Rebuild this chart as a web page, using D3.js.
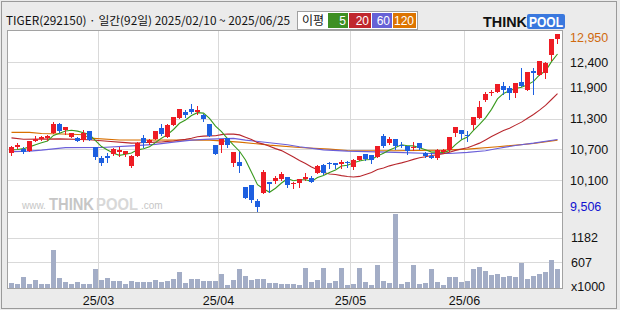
<!DOCTYPE html>
<html>
<head>
<meta charset="utf-8">
<script src="https://cdn.jsdelivr.net/npm/d3@7"></script>
<style>
  html, body { margin: 0; padding: 0; background: #fff; }
  svg { display: block; font-family: "Liberation Sans", Arial, sans-serif; }
</style>
</head>
<body>
<svg id="chart" width="620" height="310"></svg>
<script>
// trading calendar (KRX, 2025/02/10 ~ 2025/06/25)
const tradeMonths = ["02", "03", "04", "05", "06"];
const tradeDays = [
  [10, 11, 12, 13, 14, 17, 18, 19, 20, 21, 24, 25, 26, 27, 28],
  [4, 5, 6, 7, 10, 11, 12, 13, 14, 17, 18, 19, 20, 21, 24, 25, 26, 27, 28, 31],
  [1, 2, 3, 4, 7, 8, 9, 10, 11, 14, 15, 16, 17, 18, 21, 22, 23, 24, 25, 28, 29, 30],
  [2, 7, 8, 9, 12, 13, 14, 15, 16, 19, 20, 21, 22, 23, 26, 27, 28, 29, 30],
  [2, 4, 5, 9, 10, 11, 12, 13, 16, 17, 18, 19, 20, 23, 24, 25]
];

const opens = [10635, 10745, 10715, 10670, 10870, 10895, 10915, 11025, 11195, 11080,
  10950, 10930, 10875, 11055, 10740, 10535, 10575, 10615, 10650, 10605,
  10375, 10575, 10925, 10840, 10910, 11115, 10945, 11180, 11315, 11430,
  11485, 11435, 11375, 11195, 10785, 10785, 10915, 10440, 10460, 9965,
  10005, 9690, 9855, 10070, 10090, 10120, 10160, 10030, 10050, 10130,
  10135, 10240, 10400, 10440, 10440, 10425, 10460, 10360, 10490, 10615,
  10595, 10550, 10960, 10825, 10900, 10785, 10765, 10730, 10825, 10630,
  10570, 10530, 10655, 10685, 11020, 11075, 10980, 11180, 11315, 11660,
  11805, 11820, 11935, 11895, 11800, 12015, 11855, 12230, 12150, 12190,
  12540, 12845];
const highs = [10770, 10825, 10745, 10865, 10960, 10970, 10990, 11230, 11215, 11135,
  11030, 10950, 11070, 11060, 10740, 10570, 10640, 10735, 10740, 10675,
  10585, 10845, 10980, 10910, 11060, 11195, 11205, 11335, 11490, 11475,
  11585, 11545, 11390, 11195, 10790, 10895, 10920, 10650, 10655, 9970,
  10005, 9725, 10295, 10070, 10180, 10255, 10160, 10070, 10120, 10235,
  10180, 10395, 10425, 10460, 10440, 10495, 10480, 10515, 10580, 10615,
  10600, 10765, 11000, 10940, 10900, 10840, 10765, 10845, 10825, 10650,
  10630, 10705, 10705, 10940, 11135, 11075, 11055, 11325, 11650, 11820,
  11855, 11975, 12015, 11935, 11995, 12295, 12210, 12295, 12425, 12405,
  12850, 12950];
const lows = [10600, 10725, 10630, 10665, 10855, 10875, 10875, 11025, 11035, 11010,
  10935, 10865, 10855, 10880, 10510, 10405, 10455, 10590, 10565, 10565,
  10355, 10575, 10750, 10815, 10905, 10980, 10940, 11175, 11310, 11330,
  11410, 11385, 11245, 10960, 10610, 10650, 10750, 10380, 10265, 9750,
  9680, 9506, 9850, 9875, 10050, 10100, 9970, 9950, 9970, 10095,
  10060, 10240, 10220, 10340, 10340, 10340, 10360, 10325, 10490, 10495,
  10440, 10550, 10745, 10805, 10705, 10740, 10610, 10685, 10705, 10550,
  10530, 10510, 10630, 10675, 10965, 10920, 10865, 11100, 11315, 11650,
  11760, 11820, 11780, 11680, 11720, 11935, 11855, 11775, 12150, 12090,
  12445, 12775];
const closes = [10750, 10785, 10655, 10860, 10910, 10940, 10960, 11195, 11065, 11135,
  11020, 10870, 11030, 10890, 10550, 10440, 10535, 10715, 10685, 10660,
  10565, 10835, 10830, 10880, 11055, 11000, 11180, 11330, 11485, 11375,
  11430, 11465, 11285, 10970, 10615, 10895, 10790, 10650, 10375, 9755,
  9710, 9580, 10255, 10030, 10145, 10220, 10000, 10055, 10120, 10155,
  10060, 10375, 10240, 10415, 10400, 10460, 10440, 10495, 10575, 10520,
  10495, 10765, 10765, 10900, 10765, 10765, 10665, 10750, 10725, 10570,
  10530, 10685, 10680, 10940, 11135, 11000, 10955, 11325, 11525, 11780,
  11820, 11975, 11855, 11800, 11995, 11935, 12210, 12190, 12425, 12385,
  12850, 12950];
// volume, x1000 shares
const volumes = [125, 100, 266, 100, 196, 100, 100, 900, 243, 149,
  100, 149, 100, 100, 454, 196, 243, 157, 172, 100,
  172, 149, 149, 149, 196, 149, 172, 219, 384, 125,
  219, 219, 157, 157, 172, 337, 78, 196, 454, 290,
  196, 219, 219, 125, 125, 100, 100, 100, 78, 478,
  133, 180, 462, 110, 157, 462, 63, 86, 462, 133,
  63, 533, 157, 110, 1731, 86, 133, 533, 86, 110,
  438, 133, 63, 250, 250, 133, 157, 438, 485, 391,
  297, 321, 250, 274, 250, 579, 203, 274, 321, 368,
  650, 438];

// moving-average values read before the window fills (need pre-chart data)
const ma5Head = [[0, 10690], [1, 10700], [2, 10715], [3, 10750]];
const ma20Head = [[0, 10925], [2, 10900], [8, 10905], [13, 10890], [16, 10860]];
// 60 / 120 day averages
const ma60Pts = [[0, 10657], [3, 10667], [5, 10686], [9, 10735], [15, 10739], [20, 10770],
  [24, 10798], [27, 10843], [30, 10882], [33, 10901], [37, 10915], [39, 10882],
  [43, 10829], [46, 10790], [48, 10751], [52, 10692], [56, 10667], [64, 10642],
  [70, 10622], [73, 10622], [76, 10642], [79, 10673], [81, 10719], [84, 10778],
  [87, 10823], [91, 10895]];
const ma120Pts = [[0, 11032], [3, 11032], [5, 11010], [10, 10995], [12, 10985], [13, 10920],
  [18, 10885], [33, 10882], [38, 10843], [43, 10784], [48, 10739], [53, 10706],
  [56, 10680], [64, 10673], [72, 10686], [76, 10706], [81, 10751], [87, 10817],
  [91, 10882]];

const priceTicks = [12400, 11900, 11300, 10700, 10100];
const volumeTicks = [1182, 607];
const maLegend = [
  { label: "5", color: "#3d8f22" },
  { label: "20", color: "#c0272d" },
  { label: "60", color: "#6661d6" },
  { label: "120", color: "#dd7400" }
];

const W = 620, H = 310;
const plot = { left: 8, right: 562, top: 31, split: 212, bottom: 288 };
const upColor = "#ee1c24", downColor = "#1d5fe0";
const gridColor = "#d9d9d9", frameColor = "#a2a2a2";

const dates = tradeMonths.flatMap((m, k) =>
  tradeDays[k].map(d => `2025-${m}-${String(d).padStart(2, "0")}`));
const n = dates.length;

function movingAvg(period, head) {
  const pts = head.slice();
  for (let i = period - 1; i < n; i++) {
    pts.push([i, d3.mean(closes.slice(i - period + 1, i + 1))]);
  }
  return pts;
}

const svg = d3.select("#chart");

// outer background and frame
svg.append("rect").attr("width", W).attr("height", H).attr("fill", "#ebebeb");
svg.append("rect").attr("x", 1.5).attr("y", 1.5).attr("width", 615).attr("height", 307)
  .attr("fill", "none").attr("stroke", "#9a9a9a");
svg.append("rect").attr("x", plot.left).attr("y", plot.top)
  .attr("width", plot.right - plot.left).attr("height", plot.bottom - plot.top)
  .attr("fill", "#fff");

const x = d3.scaleBand().domain(d3.range(n)).range([plot.left, plot.left + 6 * n]);
const y = d3.scaleLinear().domain([d3.min(lows), d3.max(highs)]).range([210.7, 34]);
const vy = d3.scaleLinear().domain([0, 1182]).range([plot.bottom, 237.7]);
const cx = i => x(i) + 3.5;

// grid
const grid = svg.append("g").attr("stroke", gridColor).attr("stroke-width", 1);
priceTicks.forEach(t => {
  const yy = Math.round(y(t)) + 0.5;
  grid.append("line").attr("x1", plot.left).attr("x2", plot.right).attr("y1", yy).attr("y2", yy);
});
volumeTicks.forEach(t => {
  const yy = Math.round(vy(t)) + 0.5;
  grid.append("line").attr("x1", plot.left).attr("x2", plot.right).attr("y1", yy).attr("y2", yy);
});
const monthStarts = d3.range(1, n).filter(i => dates[i].slice(5, 7) !== dates[i - 1].slice(5, 7));
monthStarts.forEach(i => {
  grid.append("line").attr("x1", x(i) + 0.5).attr("x2", x(i) + 0.5)
    .attr("y1", plot.top).attr("y2", plot.bottom);
});

// watermark
const wm = svg.append("g").attr("fill", "#c6c6c6");
wm.append("text").attr("x", 22).attr("y", 209).attr("font-size", 10).text("www.");
wm.append("text").attr("x", 49).attr("y", 210).attr("font-size", 16).attr("font-weight", "bold")
  .attr("textLength", 45).attr("lengthAdjust", "spacingAndGlyphs").text("THINK");
wm.append("text").attr("x", 96).attr("y", 210).attr("font-size", 16).attr("font-weight", "bold")
  .attr("fill", "#d8d8d8").attr("textLength", 42).attr("lengthAdjust", "spacingAndGlyphs").text("POOL");
wm.append("text").attr("x", 141).attr("y", 209).attr("font-size", 10).text(".com");

// volume bars
svg.append("g").selectAll("rect").data(volumes).join("rect")
  .attr("x", (d, i) => x(i) + 1)
  .attr("width", 5)
  .attr("y", d => Math.round(vy(d)))
  .attr("height", d => plot.bottom - Math.round(vy(d)))
  .attr("fill", "#a3adc6");

// moving averages
const line = d3.line().x(d => cx(d[0])).y(d => y(d[1]));
const maSeries = [
  { pts: ma120Pts, color: "#d87000" },
  { pts: ma60Pts, color: "#6b5fd9" },
  { pts: movingAvg(20, ma20Head), color: "#b8282e" },
  { pts: movingAvg(5, ma5Head), color: "#3a9a1e" }
];
svg.append("g").selectAll("path").data(maSeries).join("path")
  .attr("d", d => line(d.pts))
  .attr("fill", "none")
  .attr("stroke", d => d.color)
  .attr("stroke-width", 1.1);

// candles
const candles = svg.append("g").selectAll("g").data(d3.range(n)).join("g")
  .attr("fill", i => closes[i] >= opens[i] ? upColor : downColor)
  .attr("stroke", i => closes[i] >= opens[i] ? upColor : downColor);
candles.append("line")
  .attr("x1", cx).attr("x2", cx)
  .attr("y1", i => Math.round(y(highs[i])))
  .attr("y2", i => Math.round(y(lows[i])) + 1);
candles.append("rect")
  .attr("stroke", "none")
  .attr("x", i => x(i) + 1)
  .attr("width", 5)
  .attr("y", i => Math.round(y(Math.max(opens[i], closes[i]))))
  .attr("height", i => Math.max(1, Math.round(y(Math.min(opens[i], closes[i]))) - Math.round(y(Math.max(opens[i], closes[i])))));

// plot frame
const frame = svg.append("g").attr("stroke", frameColor).attr("fill", "none");
frame.append("rect").attr("x", plot.left - 0.5).attr("y", plot.top - 0.5)
  .attr("width", plot.right - plot.left + 1).attr("height", plot.bottom - plot.top + 1);
frame.append("line").attr("x1", plot.left).attr("x2", plot.right)
  .attr("y1", plot.split + 0.5).attr("y2", plot.split + 0.5);

// right axis labels
const fmt = d3.format(",");
const axisText = svg.append("g").attr("font-size", 12.5).attr("fill", "#111");
priceTicks.forEach(t => {
  axisText.append("text").attr("x", 570).attr("y", y(t)).attr("dy", "0.35em").text(fmt(t));
});
axisText.append("text").attr("x", 570).attr("y", y(d3.max(highs)) + 4).attr("dy", "0.35em")
  .attr("fill", "#d06a10").text(fmt(d3.max(highs)));
axisText.append("text").attr("x", 570).attr("y", y(d3.min(lows)) - 4).attr("dy", "0.35em")
  .attr("fill", "#1010d0").text(fmt(d3.min(lows)));
volumeTicks.forEach(t => {
  axisText.append("text").attr("x", 571).attr("y", vy(t)).attr("dy", "0.35em").text(t);
});
axisText.append("text").attr("x", 571).attr("y", 287).attr("dy", "0.35em").text("x1000");

// month labels
monthStarts.forEach(i => {
  axisText.append("text").attr("x", x(i) + 0.5).attr("y", 301).attr("dy", "0.35em")
    .attr("text-anchor", "middle").text(`25/${dates[i].slice(5, 7)}`);
});

// header
svg.append("text").attr("x", 6).attr("y", 25)
  .attr("font-family", "'Noto Sans CJK KR', sans-serif").attr("font-size", 11.5).attr("fill", "#111")
  .attr("textLength", 284).attr("lengthAdjust", "spacingAndGlyphs")
  .text(`TIGER(292150) · 일간(${n}일) ${dates[0].replace(/-/g, "/")} ~ ${dates[n - 1].replace(/-/g, "/")}`);

// MA legend box
const lg = svg.append("g");
lg.append("rect").attr("x", 297.5).attr("y", 11.5).attr("width", 120).attr("height", 18)
  .attr("fill", "#fff").attr("stroke", "#a0a0a0");
lg.append("text").attr("x", 302).attr("y", 25)
  .attr("font-family", "'Noto Sans CJK KR', sans-serif").attr("font-size", 12).attr("fill", "#111").text("이평");
const boxW = [20, 22, 20, 23];
let bx = 328;
maLegend.forEach((m, k) => {
  lg.append("rect").attr("x", bx).attr("y", 13).attr("width", boxW[k]).attr("height", 15).attr("fill", m.color);
  lg.append("text").attr("x", bx + boxW[k] - 2).attr("y", 25).attr("text-anchor", "end")
    .attr("font-size", 12).attr("fill", "#fff").text(m.label);
  bx += boxW[k] + 1;
});

// logo
const logo = svg.append("g").attr("font-weight", "bold").attr("font-size", 15);
logo.append("text").attr("x", 483).attr("y", 27).attr("fill", "#111")
  .attr("textLength", 44).attr("lengthAdjust", "spacingAndGlyphs").text("THINK");
logo.append("rect").attr("x", 527).attr("y", 14).attr("width", 38).attr("height", 15)
  .attr("rx", 2).attr("fill", "#3a78de");
logo.append("text").attr("x", 529).attr("y", 27).attr("fill", "#fff")
  .attr("textLength", 34).attr("lengthAdjust", "spacingAndGlyphs").text("POOL");
</script>
</body>
</html>
